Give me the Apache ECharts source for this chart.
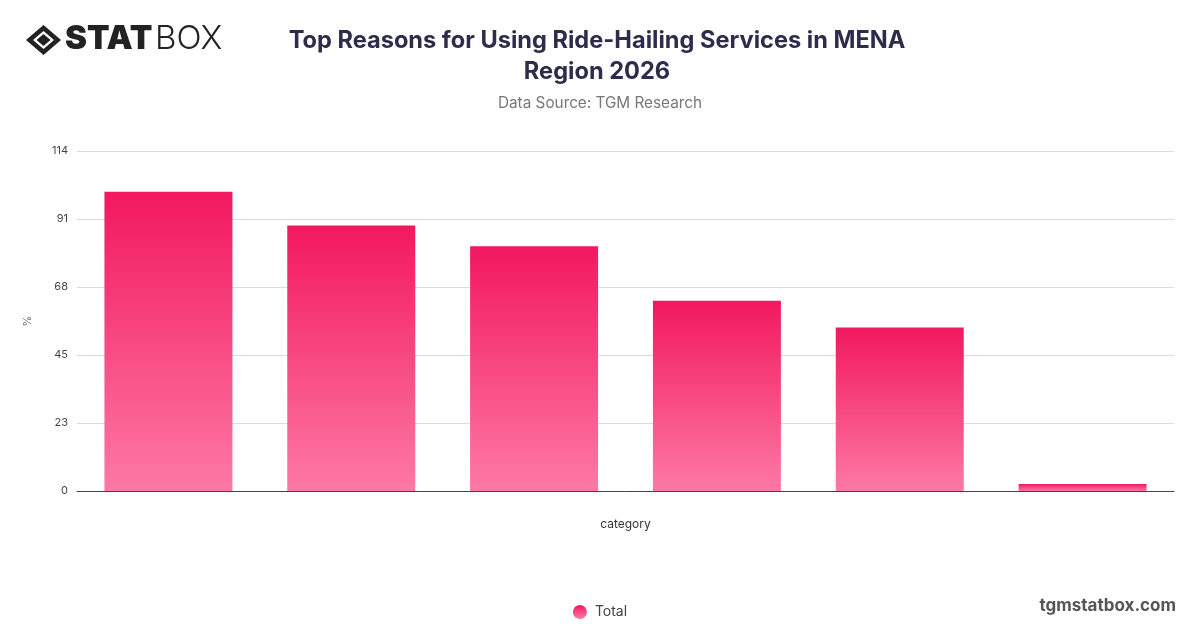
<!DOCTYPE html>
<html>
<head>
<meta charset="utf-8">
<script src="https://cdn.jsdelivr.net/npm/echarts@6/dist/echarts.min.js"></script>
<style>
html,body{margin:0;padding:0;background:#fff;}
#chart{width:1200px;height:628px;}
</style>
</head>
<body>
<div id="chart"></div>
<script>
var categories = ['Reason 1', 'Reason 2', 'Reason 3', 'Reason 4', 'Reason 5', 'Reason 6'];
var totalValues = [100, 88.7, 81.8, 63.6, 54.6, 2.3];
var yTickLabels = ['0', '23', '45', '68', '91', '114'];
var seriesName = 'Total';

var chart = echarts.init(document.getElementById('chart'));
var barGradient = new echarts.graphic.LinearGradient(0, 0, 0, 1, [
  {offset: 0, color: '#f2185f'},
  {offset: 1, color: '#fd79a5'}
]);
var yMax = 113.6, yInterval = 22.72;
chart.setOption({
  animation: false,
  title: [{
    text: 'Top Reasons for Using Ride-Hailing Services in MENA\nRegion 2026',
    left: 592, top: 20, textAlign: 'center',
    textStyle: {fontFamily: 'Inter', fontWeight: 'bold', fontSize: 23.6, lineHeight: 31, color: '#2e2c4b'}
  }, {
    text: 'Data Source: TGM Research',
    left: 595, top: 91, textAlign: 'center',
    textStyle: {fontFamily: 'Inter', fontWeight: 'normal', fontSize: 15.3, color: '#777'}
  }],
  graphic: [
    {type: 'group', left: 26, top: 25, children: [
      {type: 'polygon', shape: {points: [[0,15],[17.5,0],[35,15],[17.5,30]]}, style: {fill: '#222'}},
      {type: 'polygon', shape: {points: [[7,15],[17.5,6],[28,15],[17.5,24]]}, style: {fill: '#fff'}},
      {type: 'polygon', shape: {points: [[10.5,15],[17.5,9],[24.5,15],[17.5,21]]}, style: {fill: '#222'}}
    ]},
    {type: 'text', left: 65, top: 23, style: {text: 'STAT', fontFamily: 'Inter', fontWeight: 900, fontSize: 33, fill: '#222'}},
    {type: 'text', left: 155, top: 23, style: {text: 'BOX', fontFamily: 'Inter', fontWeight: 300, fontSize: 33, fill: '#222'}},
    {type: 'text', right: 24, top: 597, style: {text: 'tgmstatbox.com', fontFamily: 'Inter', fontWeight: 'bold', fontSize: 17, fill: '#555'}}
  ],
  legend: {
    data: [seriesName], bottom: 4, left: 'center', icon: 'circle', itemWidth: 14, itemHeight: 14, itemGap: 10,
    textStyle: {fontFamily: 'Inter', fontSize: 14, color: '#444', padding: [0,0,0,3]}
  },
  grid: {left: 77, right: 26, top: 151, bottom: 137},
  xAxis: {
    type: 'category', data: categories,
    name: 'category', nameLocation: 'middle', nameGap: 27,
    nameTextStyle: {fontFamily: 'Inter', fontSize: 12, color: '#333'},
    axisLine: {show: true, lineStyle: {color: '#444', width: 1}},
    axisTick: {show: false}, axisLabel: {show: false}
  },
  yAxis: {
    type: 'value', min: 0, max: yMax, interval: yInterval,
    name: '%', nameLocation: 'middle', nameGap: 44,
    nameTextStyle: {fontFamily: 'Inter', fontSize: 11, color: '#6b6b8a'},
    axisLine: {show: false}, axisTick: {show: false},
    axisLabel: {fontFamily: 'Inter', fontSize: 11, color: '#444', margin: 9,
      formatter: function (v) { return yTickLabels[Math.round(v / yInterval)]; }},
    splitLine: {lineStyle: {color: '#dcdcdc', width: 1}}
  },
  series: [{
    name: seriesName, type: 'bar', data: totalValues,
    barCategoryGap: '30%',
    itemStyle: {color: barGradient}
  }]
});
</script>
</body>
</html>
